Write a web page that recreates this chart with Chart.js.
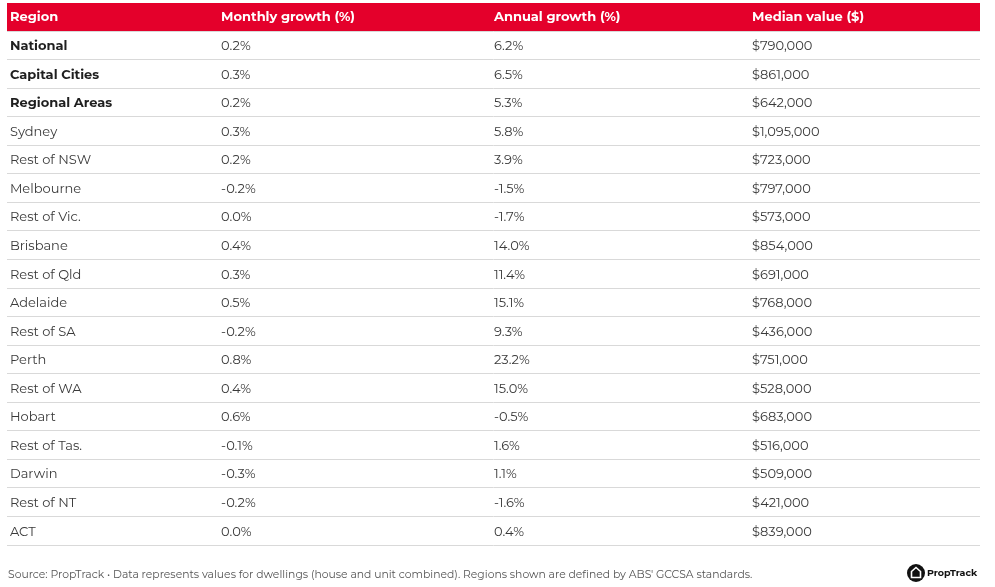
<!DOCTYPE html>
<html>
<head>
<meta charset="utf-8">
<script src="https://cdn.jsdelivr.net/npm/chart.js@4.4.1/dist/chart.umd.min.js"></script>
<style>
  html, body { margin: 0; padding: 0; background: #fff; }
</style>
</head>
<body>
<canvas id="growth-table" width="995" height="587"></canvas>
<script>
// Table data
const headers = ["Region", "Monthly growth (%)", "Annual growth (%)", "Median value ($)"];
const regions = [
  "National", "Capital Cities", "Regional Areas", "Sydney", "Rest of NSW",
  "Melbourne", "Rest of Vic.", "Brisbane", "Rest of Qld", "Adelaide",
  "Rest of SA", "Perth", "Rest of WA", "Hobart", "Rest of Tas.",
  "Darwin", "Rest of NT", "ACT",
];
const boldRegions = ["National", "Capital Cities", "Regional Areas"];
const monthlyGrowth = [0.2, 0.3, 0.2, 0.3, 0.2, -0.2, 0.0, 0.4, 0.3, 0.5, -0.2, 0.8, 0.4, 0.6, -0.1, -0.3, -0.2, 0.0];
const annualGrowth = [6.2, 6.5, 5.3, 5.8, 3.9, -1.5, -1.7, 14.0, 11.4, 15.1, 9.3, 23.2, 15.0, -0.5, 1.6, 1.1, -1.6, 0.4];
const medianValue = [790000, 861000, 642000, 1095000, 723000, 797000, 573000, 854000, 691000, 768000, 436000, 751000, 528000, 683000, 516000, 509000, 421000, 839000];
const sourceNote = "Source: PropTrack \u2022 Data represents values for dwellings (house and unit combined). Regions shown are defined by ABS' GCCSA standards.";

// Column start positions (fraction of table width)
const COL_X = [0.003, 0.22, 0.5005, 0.7657];
const FONT = "Montserrat, Inter, 'Noto Sans', sans-serif";
const RED = "#e4002b";

function pct(v) {
  return v.toFixed(1) + "%";
}
function dollars(v) {
  return "$" + v.toLocaleString("en-US");
}

// One invisible point per cell, text is painted on top by the plugin below
function columnDataset(col, texts) {
  return {
    label: headers[col],
    data: regions.map(function (r, i) {
      return { x: COL_X[col], y: r, text: texts[i] };
    }),
    pointRadius: 0,
    pointHoverRadius: 0,
  };
}

const tablePlugin = {
  id: "tableText",
  afterDatasetsDraw: function (chart) {
    const ctx = chart.ctx;
    ctx.save();
    ctx.textAlign = "left";
    ctx.textBaseline = "middle";
    chart.data.datasets.forEach(function (ds, d) {
      const meta = chart.getDatasetMeta(d);
      meta.data.forEach(function (pt, i) {
        const raw = ds.data[i];
        const isBold = d === 0 && boldRegions.indexOf(raw.y) !== -1;
        ctx.font = (isBold ? "700 " : "400 ") + "13px " + FONT;
        ctx.fillStyle = isBold ? "#1f1f1f" : "#3a3a3a";
        ctx.fillText(raw.text, pt.x, pt.y + 1);
      });
    });
    ctx.restore();
  },
  afterDraw: function (chart) {
    const ctx = chart.ctx;
    const area = chart.chartArea;
    const xs = chart.scales.x;
    ctx.save();

    // red header band
    ctx.fillStyle = RED;
    ctx.fillRect(area.left, 3, area.right - area.left, area.top - 3);
    ctx.fillStyle = "#ffffff";
    ctx.font = "700 13px " + FONT;
    ctx.textBaseline = "middle";
    headers.forEach(function (h, c) {
      ctx.fillText(h, xs.getPixelForValue(COL_X[c]), 17.5);
    });

    // footer note
    ctx.font = "400 10.8px " + FONT;
    ctx.fillStyle = "#555555";
    ctx.fillText(sourceNote, 8, 575);

    // PropTrack logo
    ctx.fillStyle = "#111111";
    ctx.beginPath();
    ctx.arc(916, 573, 9, 0, Math.PI * 2);
    ctx.fill();
    ctx.strokeStyle = "#ffffff";
    ctx.lineWidth = 1.6;
    ctx.beginPath();
    ctx.moveTo(911.5, 577.5);
    ctx.lineTo(911.5, 571.5);
    ctx.lineTo(916, 567.5);
    ctx.lineTo(920.5, 571.5);
    ctx.lineTo(920.5, 577.5);
    ctx.closePath();
    ctx.stroke();
    ctx.fillStyle = "#111111";
    ctx.font = "700 9.5px " + FONT;
    ctx.fillText("PropTrack", 927, 573.5);

    ctx.restore();
  },
};

const ctx = document.getElementById("growth-table").getContext("2d");
new Chart(ctx, {
  type: "scatter",
  data: {
    datasets: [
      columnDataset(0, regions),
      columnDataset(1, monthlyGrowth.map(pct)),
      columnDataset(2, annualGrowth.map(pct)),
      columnDataset(3, medianValue.map(dollars)),
    ],
  },
  options: {
    responsive: false,
    animation: false,
    events: [],
    layout: { padding: { top: 31, bottom: 42, left: 7, right: 15 } },
    scales: {
      x: { type: "linear", min: 0, max: 1, display: false },
      y: {
        type: "category",
        labels: regions,
        offset: true,
        ticks: { display: false },
        border: { display: false },
        grid: { offset: true, drawTicks: false, color: "#d9d9d9", lineWidth: 1 },
      },
    },
    plugins: {
      legend: { display: false },
      tooltip: { enabled: false },
    },
  },
  plugins: [tablePlugin],
});
</script>
</body>
</html>
